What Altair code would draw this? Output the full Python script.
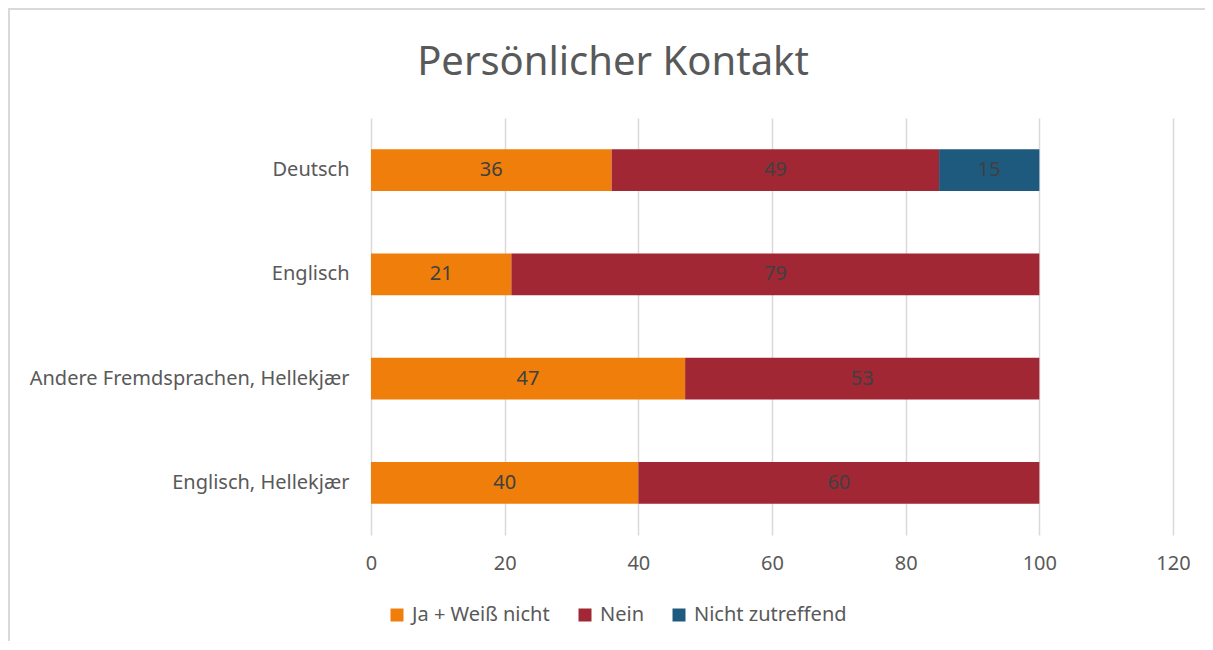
import altair as alt
import pandas as pd

title_text = ["Persönlicher Kontakt"]
categories = ["Deutsch", "Englisch", "Andere Fremdsprachen, Hellekjær", "Englisch, Hellekjær"]
series = ["Ja + Weiß nicht", "Nein", "Nicht zutreffend"]
ja = [36, 21, 47, 40]
nein = [49, 79, 53, 60]
nicht = [15, 0, 0, 0]
colors = ["#EF7F0A", "#A12735", "#1D5A7E"]
x_ticks = [0, 20, 40, 60, 80, 100, 120]

rows = []
for i, c in enumerate(categories):
    for j, (s, vals) in enumerate(zip(series, [ja, nein, nicht])):
        if vals[i] > 0:
            rows.append({"cat": c, "series": s, "value": vals[i], "ord": j})
df = pd.DataFrame(rows)

FONT = "Noto Sans"

base = alt.Chart(df).transform_stack(
    stack="value", groupby=["cat"], as_=["x0", "x1"],
    sort=[alt.SortField("ord", order="ascending")]
)

y_enc = alt.Y("cat:N", sort=categories, title=None,
              scale=alt.Scale(paddingInner=0.6, paddingOuter=0.3),
              axis=alt.Axis(domain=False, ticks=False, grid=False, labelPadding=22,
                            labelLimit=400,
                            labelFontSize=20, labelColor="#595959", labelFont=FONT))

bars = base.mark_bar().encode(
    x=alt.X("x0:Q", title=None,
            scale=alt.Scale(domain=[0, 120], nice=False),
            axis=alt.Axis(values=x_ticks, domain=False, ticks=False, grid=True,
                          gridColor="#d9d9d9", gridWidth=1.5, labelPadding=18,
                          labelFlush=False,
                          labelFontSize=20, labelColor="#595959", labelFont=FONT)),
    x2="x1:Q",
    y=y_enc,
    color=alt.Color("series:N", sort=series,
                    scale=alt.Scale(domain=series, range=colors),
                    legend=alt.Legend(title=None, orient="none", direction="horizontal",
                                      legendX=16, legendY=487, symbolType="square",
                                      symbolSize=169, symbolStrokeWidth=0,
                                      labelFontSize=20, labelColor="#595959",
                                      labelFont=FONT, columnPadding=25, labelOffset=5)),
)

labels = base.transform_calculate(mid="(datum.x0 + datum.x1) / 2").mark_text(
    fontSize=20, color="#404040", font=FONT, baseline="middle", align="center"
).encode(
    x="mid:Q",
    y=alt.Y("cat:N", sort=categories),
    text="value:Q",
)

title_mark = alt.Chart(pd.DataFrame({"t": title_text})).mark_text(
    fontSize=40, color="#595959", font=FONT, align="center", baseline="alphabetic"
).encode(x=alt.value(242), y=alt.value(-43), text="t:N")

frame_df = pd.DataFrame({"k": [0]})
top_line = alt.Chart(frame_df).mark_rule(color="#d9d9d9", strokeWidth=2).encode(
    x=alt.value(-363), x2=alt.value(860), y=alt.value(-109))
left_line = alt.Chart(frame_df).mark_rule(color="#d9d9d9", strokeWidth=2).encode(
    x=alt.value(-362), y=alt.value(-110), y2=alt.value(540))

chart = alt.layer(bars, labels, title_mark, top_line, left_line).properties(
    width=802, height=417,
    autosize=alt.AutoSizeParams(type="none"),
    padding={"left": 363, "top": 110, "right": 32, "bottom": 106},
    background="white",
).configure_view(stroke=None)

chart.save("out.html", embed_options={"renderer": "svg", "actions": False})
